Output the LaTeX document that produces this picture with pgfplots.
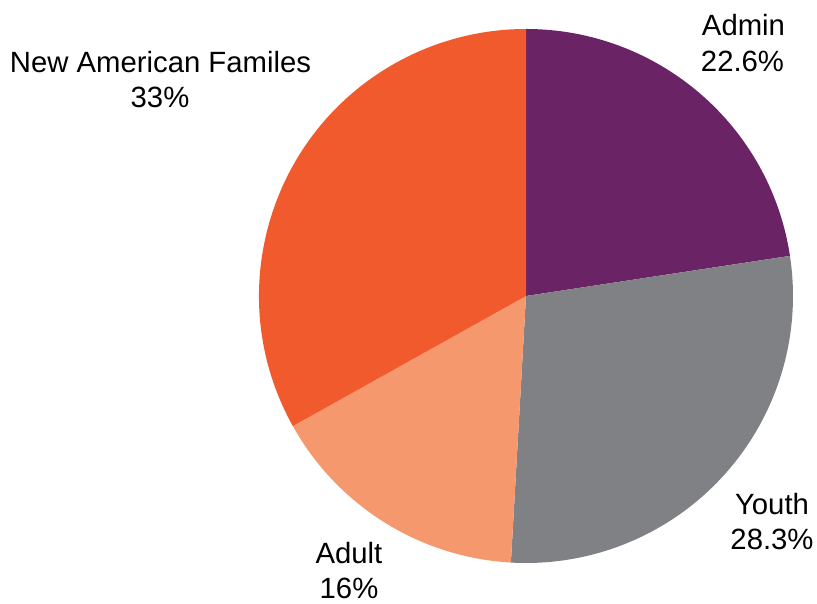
\documentclass[border=0pt]{standalone}
\usepackage{pgfplots}
\pgfplotsset{compat=1.18}
\usepackage{fontspec}
\setmainfont{Liberation Sans}
\definecolor{admin}{HTML}{6A2466}
\definecolor{youth}{HTML}{808184}
\definecolor{adult}{HTML}{F6986E}
\definecolor{naf}{HTML}{F05A2C}
\begin{document}
\begin{tikzpicture}
\begin{axis}[
  scale only axis, width=817pt, height=604pt,
  xmin=0, xmax=817, ymin=0, ymax=604,
  hide axis, clip=false,
]
% values (%): Admin 22.6, Youth 28.3, Adult 16, New American Familes 33
\fill[admin] (axis cs:526,308) -- ++(90:267) arc[start angle=90, end angle={90-3.6*22.6}, radius=267] -- cycle;
\fill[youth] (axis cs:526,308) -- ++({90-3.6*22.6}:267) arc[start angle={90-3.6*22.6}, end angle={90-3.6*(22.6+28.3)}, radius=267] -- cycle;
\fill[adult] (axis cs:526,308) -- ++({90-3.6*(22.6+28.3)}:267) arc[start angle={90-3.6*(22.6+28.3)}, end angle={90-3.6*(22.6+28.3+16)}, radius=267] -- cycle;
\fill[naf] (axis cs:526,308) -- ++({90-3.6*(22.6+28.3+16)}:267) arc[start angle={90-3.6*(22.6+28.3+16)}, end angle=-270, radius=267] -- cycle;
\begin{scope}[every node/.style={anchor=base, inner sep=0pt, font=\fontsize{29.3}{35}\selectfont}]
\node at (axis cs:160.5,531) {New American Familes};
\node at (axis cs:160,496) {33\%};
\node at (axis cs:743.5,568) {Admin};
\node at (axis cs:742.5,532) {22.6\%};
\node at (axis cs:772,89) {Youth};
\node at (axis cs:772,54) {28.3\%};
\node at (axis cs:349,40) {Adult};
\node at (axis cs:349,5) {16\%};
\end{scope}
\end{axis}
\pgfresetboundingbox
\path (0,0) rectangle (817pt,604pt);
\end{tikzpicture}
\end{document}
